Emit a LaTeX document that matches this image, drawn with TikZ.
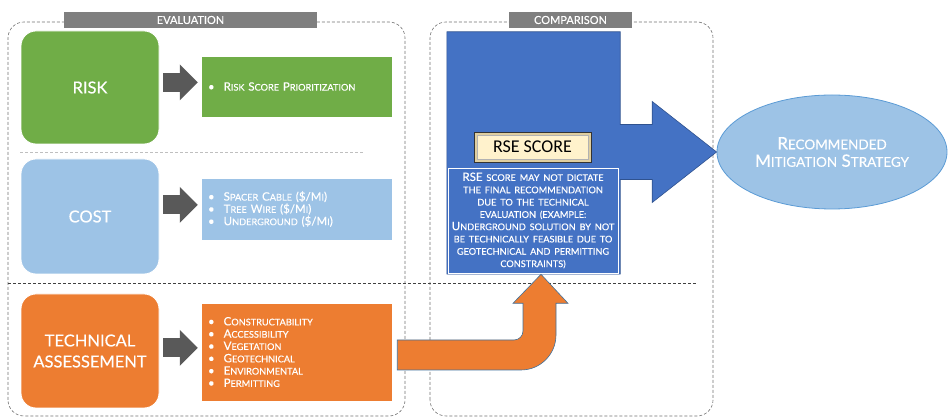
\documentclass[tikz,border=0pt]{standalone}
\usepackage{fontspec}
\setmainfont{Lato}[UprightFeatures={FakeBold=0.3}]
\newfontfamily\calib{Carlito}
\usetikzlibrary{arrows.meta,shapes.geometric,calc}
\definecolor{rseGreen}{RGB}{112,173,71}
\definecolor{rseSky}{RGB}{157,195,230}
\definecolor{rseOrange}{RGB}{237,125,49}
\definecolor{rseBlue}{RGB}{68,114,196}
\definecolor{rseNavy}{RGB}{47,82,143}
\definecolor{rseSteel}{RGB}{65,113,156}
\definecolor{rseEdge}{RGB}{91,155,213}
\definecolor{rseArrow}{RGB}{89,89,89}
\definecolor{rseBanner}{RGB}{127,127,127}
\definecolor{rseCream}{RGB}{255,242,204}
\definecolor{rseBevel}{RGB}{222,206,160}
\newcommand\lowcap[2][9.2]{{\fontsize{#1}{12}\selectfont #2}}
\newcommand\bul{\textbullet\hspace{9pt}}

\begin{document}
\begin{tikzpicture}[x=1pt, y=1pt,
      font=\fontsize{11.5}{12.3}\selectfont,
      zone/.style={draw=rseBanner!90!black, dash pattern=on 3pt off 2pt, line width=0.6pt, rounded corners=16pt},
      ban/.style={fill=rseBanner, text=white, minimum height=16pt, inner sep=0pt, font=\fontsize{11}{12}\selectfont},
      cat/.style={rectangle, rounded corners=15pt, minimum width=138pt, text=white, draw=white!70, line width=0.8pt,
                  align=center, font=\fontsize{16.5}{21}\selectfont},
      lst/.style={rectangle, minimum width=191pt, text width=177pt, inner xsep=7pt, align=left, text=white,
                  draw=white!60, line width=0.5pt},
      ga/.style={draw=rseArrow, line width=19pt, -{Triangle[length=18pt,width=36pt,line width=0pt]},
                 shorten <=4pt, shorten >=3pt},
      bigarr/.style={fill=rseBlue, draw=rseNavy, line width=0.6pt},
      uarr/.style={fill=rseOrange, draw=rseSteel, line width=0.6pt}]

    \useasboundingbox (0,0) rectangle (948,420);

    \draw[zone] (8,4) rectangle (405,398);
    \draw[zone] (430,4) rectangle (713,398);
    \node[ban, minimum width=253pt] (evalb) at (190.5,400) {EVALUATION};
    \node[ban, minimum width=123pt] (cmpb) at (570.5,400) {COMPARISON};

    \draw[draw=rseBanner!50, dash pattern=on 3pt off 2pt, line width=0.6pt] (20,268) -- (364,268);
    \draw[draw=black!75, dash pattern=on 3pt off 2pt, line width=0.6pt] (8,137) -- (697,137);

    \node[cat, fill=rseGreen, minimum height=113pt] (risk) at (90,332.5) {RISK};
    \node[lst, fill=rseGreen, minimum height=61pt] (riskl) at (296.5,333.5)
       {\bul R\lowcap{ISK} S\lowcap{CORE} P\lowcap{RIORITIZATION}};
    \node[cat, fill=rseSky, minimum height=115pt] (cost) at (90,203.5) {COST};
    \node[lst, fill=rseSky, minimum height=62pt] (costl) at (296.5,211)
       {\bul S\lowcap{PACER} C\lowcap{ABLE} (\$/M\lowcap{I})\\
        \bul T\lowcap{REE} W\lowcap{IRE} (\$/M\lowcap{I})\\
        \bul U\lowcap{NDERGROUND} (\$/M\lowcap{I})};
    \node[cat, fill=rseOrange, minimum height=114pt] (tech) at (90,69) {TECHNICAL\\ ASSESSEMENT};
    \node[lst, fill=rseOrange, minimum height=98pt] (techl) at (296.5,68)
       {\bul C\lowcap{ONSTRUCTABILITY}\\ \bul A\lowcap{CCESSIBILITY}\\ \bul V\lowcap{EGETATION}\\
        \bul G\lowcap{EOTECHNICAL}\\ \bul E\lowcap{NVIRONMENTAL}\\ \bul P\lowcap{ERMITTING}};

    \draw[ga] ($(risk.east |- riskl.west)+(0,4)$) -- ($(riskl.west)+(0,4)$);
    \draw[ga] ($(cost.east |- costl.west)+(0,4)$) -- ($(costl.west)+(0,4)$);
    \draw[ga] ($(tech.east |- techl.west)+(0,4)$) -- ($(techl.west)+(0,4)$);

    \node[rectangle, inner sep=0pt, minimum width=173pt, minimum height=242pt] (cmp) at (533.5,267) {};
    \node[ellipse, fill=rseSky, draw=rseEdge, line width=0.8pt, inner sep=0pt, minimum width=230pt,
          minimum height=114pt, text=white, align=center, font=\fontsize{17}{17.5}\selectfont] (goal) at (832,268)
       {R\lowcap[13.5]{ECOMMENDED}\\ M\lowcap[13.5]{ITIGATION} S\lowcap[13.5]{TRATEGY}};

    \draw[bigarr] let \p1=(cmp.north east), \p2=(goal.west) in
       (cmp.south west) -- (cmp.north west) -- (\p1) -- (\x1,\y2+27.5pt) -- (\x1+32pt,\y2+27.5pt)
       -- (\x1+32pt,\y2+50.5pt) -- (\x2,\y2) -- (\x1+32pt,\y2-50.5pt) -- (\x1+32pt,\y2-27.5pt)
       -- (\x1,\y2-27.5pt) -- (cmp.south east) -- cycle;

    \node[draw=black!80, fill=rseBevel, minimum width=117pt, minimum height=30pt, inner sep=0pt] (rseb) at (532.5,273) {};
    \node[draw=black!30, fill=rseCream, minimum width=111pt, minimum height=24pt, inner sep=0pt,
          font=\calib\fontsize{18}{20}\selectfont] (rse) at (rseb) {RSE SCORE};
    \node[draw=white, line width=0.6pt, fill=rseBlue, minimum width=170pt, minimum height=105pt, text width=164pt,
          inner sep=3pt, align=center, text=white] (note) at (533,199.5)
       {RSE \lowcap{SCORE MAY NOT DICTATE}\\ \lowcap{THE FINAL RECOMMENDATION}\\ \lowcap{DUE TO THE TECHNICAL}\\
        \lowcap{EVALUATION (EXAMPLE:}\\ U\lowcap{NDERGROUND SOLUTION BY NOT}\\ \lowcap{BE TECHNICALLY FEASIBLE DUE TO}\\
        \lowcap{GEOTECHNICAL AND PERMITTING}\\ \lowcap{CONSTRAINTS)}};

    \draw[uarr] let \p1=(techl.east), \p2=(note.south) in
       (\x1+5pt,\y1+12pt) -- (\x2-19pt,\y1+12pt) arc[start angle=270, end angle=360, radius=9pt]
       -- (\x2-10pt,\y2-30pt) -- (\x2-20pt,\y2-30pt) -- (\x2+8pt,\y2-1pt) -- (\x2+35pt,\y2-30pt)
       -- (\x2+23pt,\y2-30pt) -- (\x2+23pt,\y1+17pt) arc[start angle=0, end angle=-90, radius=35pt]
       -- (\x1+5pt,\y1-18pt) -- cycle;
  \end{tikzpicture}
\end{document}
